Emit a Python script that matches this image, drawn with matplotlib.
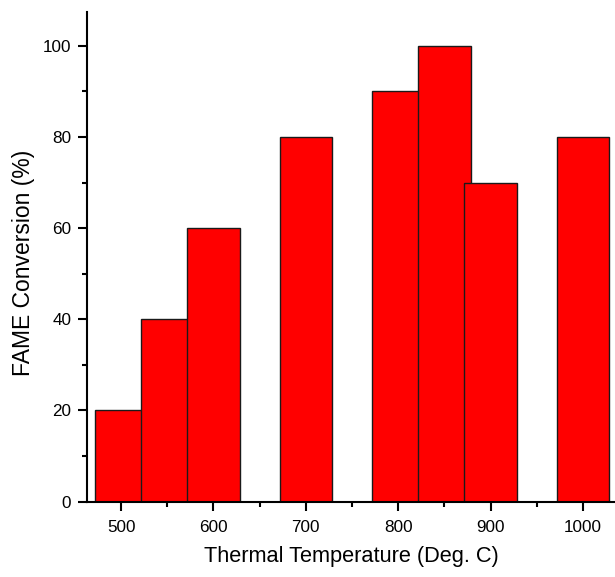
import matplotlib
matplotlib.use("Agg")
import matplotlib.pyplot as plt
from matplotlib.ticker import MultipleLocator

plt.rcParams['font.family'] = ['Liberation Sans', 'DejaVu Sans']

# data
temps = [500, 550, 600, 700, 800, 850, 900, 1000]
conversion = [20, 40, 60, 80, 90, 100, 70, 80]

fig = plt.figure(figsize=(6.15, 5.77), dpi=100)
ax = fig.add_axes([0.142, 0.1308, 0.858, 0.849])

# bars are wider than the 50-degree step, so later bars cover earlier ones
ax.bar(temps, conversion, width=57, color='#ff0000', edgecolor='#1a1a1a',
       linewidth=1.0, align='center')

ax.set_xlim(463.5, 1034.6)
ax.set_ylim(0, 107.5)

ax.spines['top'].set_visible(False)
ax.spines['right'].set_visible(False)
ax.spines['left'].set_linewidth(1.5)
ax.spines['bottom'].set_linewidth(1.5)

ax.xaxis.set_major_locator(MultipleLocator(100))
ax.xaxis.set_minor_locator(MultipleLocator(50))
ax.yaxis.set_major_locator(MultipleLocator(20))
ax.yaxis.set_minor_locator(MultipleLocator(10))
ax.tick_params(which='major', direction='out', length=6.5, width=1.5,
               labelsize=12.3, pad=5, color='black')
ax.tick_params(axis='x', which='major', pad=7)
ax.tick_params(which='minor', direction='out', length=3.5, width=1.5)

ax.set_xlabel("Thermal Temperature (Deg. C)", fontsize=15.7, labelpad=8)
ax.set_ylabel("FAME Conversion (%)", fontsize=16.5)
ax.yaxis.set_label_coords(-0.099, 0.488)

fig.savefig("out.png", dpi=100)
